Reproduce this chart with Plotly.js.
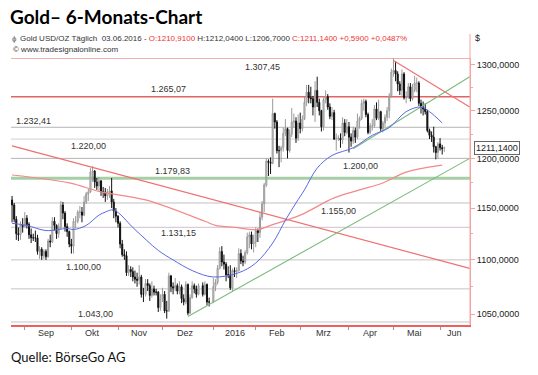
<!DOCTYPE html>
<html><head><meta charset="utf-8">
<script src="https://cdn.plot.ly/plotly-3.0.1.min.js"></script>
<style>html,body{margin:0;padding:0;background:#fff;} #chart{width:538px;height:375px;}</style>
</head><body><div id="chart"></div>
<script>
// ---- daily OHLC (Gold USD/OZ) ----
const dates = [
 '2015-08-24','2015-08-25','2015-08-26','2015-08-27','2015-08-28','2015-08-31',
 '2015-09-01','2015-09-02','2015-09-03','2015-09-04','2015-09-07','2015-09-08','2015-09-09','2015-09-10','2015-09-11','2015-09-14','2015-09-15','2015-09-16','2015-09-17','2015-09-18','2015-09-21','2015-09-22','2015-09-23','2015-09-24','2015-09-25','2015-09-28','2015-09-29','2015-09-30',
 '2015-10-01','2015-10-02','2015-10-05','2015-10-06','2015-10-07','2015-10-08','2015-10-09','2015-10-12','2015-10-13','2015-10-14','2015-10-15','2015-10-16','2015-10-19','2015-10-20','2015-10-21','2015-10-22','2015-10-23','2015-10-26','2015-10-27','2015-10-28','2015-10-29','2015-10-30',
 '2015-11-02','2015-11-03','2015-11-04','2015-11-05','2015-11-06','2015-11-09','2015-11-10','2015-11-11','2015-11-12','2015-11-13','2015-11-16','2015-11-17','2015-11-18','2015-11-19','2015-11-20','2015-11-23','2015-11-24','2015-11-25','2015-11-26','2015-11-27','2015-11-30',
 '2015-12-01','2015-12-02','2015-12-03','2015-12-04','2015-12-07','2015-12-08','2015-12-09','2015-12-10','2015-12-11','2015-12-14','2015-12-15','2015-12-16','2015-12-17','2015-12-18','2015-12-21','2015-12-22','2015-12-23','2015-12-24','2015-12-28','2015-12-29','2015-12-30','2015-12-31',
 '2016-01-04','2016-01-05','2016-01-06','2016-01-07','2016-01-08','2016-01-11','2016-01-12','2016-01-13','2016-01-14','2016-01-15','2016-01-18','2016-01-19','2016-01-20','2016-01-21','2016-01-22','2016-01-25','2016-01-26','2016-01-27','2016-01-28','2016-01-29',
 '2016-02-01','2016-02-02','2016-02-03','2016-02-04','2016-02-05','2016-02-08','2016-02-09','2016-02-10','2016-02-11','2016-02-12','2016-02-15','2016-02-16','2016-02-17','2016-02-18','2016-02-19','2016-02-22','2016-02-23','2016-02-24','2016-02-25','2016-02-26','2016-02-29',
 '2016-03-01','2016-03-02','2016-03-03','2016-03-04','2016-03-07','2016-03-08','2016-03-09','2016-03-10','2016-03-11','2016-03-14','2016-03-15','2016-03-16','2016-03-17','2016-03-18','2016-03-21','2016-03-22','2016-03-23','2016-03-24','2016-03-25','2016-03-28','2016-03-29','2016-03-30','2016-03-31',
 '2016-04-01','2016-04-04','2016-04-05','2016-04-06','2016-04-07','2016-04-08','2016-04-11','2016-04-12','2016-04-13','2016-04-14','2016-04-15','2016-04-18','2016-04-19','2016-04-20','2016-04-21','2016-04-22','2016-04-25','2016-04-26','2016-04-27','2016-04-28','2016-04-29',
 '2016-05-02','2016-05-03','2016-05-04','2016-05-05','2016-05-06','2016-05-09','2016-05-10','2016-05-11','2016-05-12','2016-05-13','2016-05-16','2016-05-17','2016-05-18','2016-05-19','2016-05-20','2016-05-23','2016-05-24','2016-05-25','2016-05-26','2016-05-27','2016-05-30','2016-05-31',
 '2016-06-01','2016-06-02','2016-06-03'
];
const openP = [
 1158,1153,1139,1125,1124,1133,
 1132,1140,1134,1124,1121,1121,1121,1108,1110,1104,1108,1103,1118,1117,1137,1133,1125,1131,1153,1145,1132,1127,
 1115,1113,1137,1137,1146,1146,1143,1156,1164,1166,1186,1187,1176,1172,1177,1166,1166,1162,1166,1167,1156,1147,
 1142,1135,1115,1105,1104,1088,1091,1089,1084,1082,1081,1084,1068,1068,1078,1076,1067,1073,1070,1070,1056,
 1064,1068,1053,1053,1085,1075,1074,1076,1071,1075,1064,1061,1077,1051,1065,1076,1073,1068,1076,1068,1077,1061,
 1061,1075,1079,1092,1108,1098,1096,1086,1086,1074,1090,1089,1090,1106,1099,1098,1107,1122,1124,1115,
 1117,1128,1126,1141,1154,1173,1197,1196,1195,1247,1238,1208,1208,1211,1226,1231,1208,1225,1238,1239,1221,
 1237,1231,1241,1259,1270,1264,1263,1254,1272,1259,1250,1233,1262,1265,1254,1244,1248,1220,1221,1221,1219,1237,1227,
 1233,1222,1218,1229,1222,1239,1242,1258,1260,1246,1227,1234,1234,1252,1242,1249,1231,1237,1243,1250,1266,
 1292,1294,1290,1279,1272,1290,1264,1265,1276,1263,1272,1280,1280,1258,1254,1252,1249,1229,1224,1222,1212,1206,
 1215,1211,1210.91
];
const highP = [
 1162,1155,1142,1131,1137,1140,
 1146,1143,1136,1130,1125,1128,1124,1113,1112,1110,1110,1120,1124,1141,1141,1134,1135,1157,1156,1147,1135,1128,
 1120,1140,1142,1148,1152,1151,1162,1166,1169,1190,1192,1188,1180,1181,1178,1171,1170,1169,1172,1180,1159,1150,
 1143,1137,1119,1110,1108,1095,1094,1093,1090,1088,1095,1086,1074,1082,1082,1078,1080,1076,1073,1071,1068,
 1074,1071,1062,1088,1086,1079,1083,1078,1080,1077,1068,1080,1078,1068,1080,1078,1076,1078,1079,1080,1078,1065,
 1083,1082,1095,1112,1113,1105,1098,1094,1095,1092,1093,1093,1111,1110,1104,1109,1126,1127,1127,1124,
 1131,1130,1146,1157,1175,1200,1199,1201,1263,1248,1240,1213,1213,1232,1241,1232,1230,1253,1247,1243,1246,
 1248,1245,1265,1278,1278,1276,1266,1282,1287,1263,1251,1264,1272,1268,1258,1254,1251,1226,1224,1226,1243,1241,1241,
 1238,1226,1233,1232,1247,1244,1262,1263,1262,1248,1237,1241,1256,1259,1262,1250,1239,1246,1254,1269,1296,
 1307.45,1304,1293,1282,1295,1292,1271,1280,1280,1279,1288,1286,1282,1262,1260,1258,1251,1231,1228,1233,1213,1217,
 1221,1214,1212.04
];
const lowP = [
 1136,1136,1119,1118,1119,1126,
 1131,1130,1120,1116,1118,1117,1105,1101,1100,1101,1100,1102,1112,1116,1128,1120,1121,1129,1139,1127,1122,1112,
 1106,1106,1130,1135,1140,1136,1142,1154,1157,1165,1176,1170,1168,1167,1162,1160,1156,1158,1160,1150,1140,1136,
 1131,1111,1103,1100,1085,1085,1084,1080,1078,1075,1077,1065,1061,1066,1071,1062,1065,1067,1067,1052,1053,
 1061,1051,1046,1052,1070,1068,1071,1068,1068,1060,1058,1059,1049,1050,1064,1069,1065,1067,1066,1067,1058,1057,
 1060,1071,1077,1091,1094,1091,1080,1083,1072,1071,1084,1083,1089,1096,1094,1096,1105,1111,1110,1107,
 1112,1117,1121,1138,1146,1171,1182,1184,1194,1231,1205,1191,1196,1207,1223,1200,1206,1222,1232,1216,1218,
 1226,1228,1240,1255,1258,1258,1245,1238,1254,1245,1228,1229,1258,1251,1241,1240,1219,1208,1218,1211,1215,1223,1225,
 1206,1212,1215,1216,1220,1231,1240,1250,1243,1225,1225,1229,1232,1240,1240,1228,1227,1233,1239,1242,1264,
 1287,1282,1271,1267,1266,1262,1258,1263,1260,1261,1270,1270,1255,1247,1245,1246,1227,1220,1217,1206,1199,1200,
 1208,1204,1206.70
];
const closeP = [
 1153,1139,1125,1124,1134,1132,
 1140,1134,1124,1121,1121,1121,1108,1110,1104,1108,1103,1118,1117,1137,1133,1125,1131,1153,1145,1132,1127,1115,
 1113,1137,1137,1146,1146,1143,1156,1164,1166,1186,1187,1176,1172,1177,1166,1166,1162,1166,1167,1156,1147,1142,
 1135,1115,1105,1104,1088,1091,1089,1084,1082,1081,1084,1068,1068,1078,1076,1067,1073,1070,1070,1056,1064,
 1068,1053,1053,1085,1075,1074,1076,1071,1075,1064,1061,1077,1051,1065,1076,1073,1068,1076,1068,1077,1061,1061,
 1075,1079,1092,1108,1098,1096,1086,1086,1074,1090,1089,1090,1106,1099,1098,1107,1122,1124,1115,1117,
 1128,1126,1141,1154,1173,1197,1196,1195,1247,1238,1208,1208,1211,1226,1231,1208,1225,1238,1239,1221,1237,
 1231,1241,1259,1270,1264,1263,1254,1272,1259,1250,1233,1262,1265,1254,1244,1248,1220,1221,1221,1219,1237,1227,1233,
 1222,1218,1229,1222,1239,1242,1258,1260,1246,1227,1234,1234,1252,1242,1249,1231,1237,1243,1250,1266,1292,
 1294,1290,1279,1272,1290,1264,1265,1276,1263,1272,1280,1280,1258,1254,1252,1249,1229,1224,1222,1212,1206,1215,
 1211,1210,1211.14
];

// ---- moving averages ----
const maFastDates = ['2015-08-24','2015-09-02','2015-09-15','2015-09-29','2015-10-02','2015-10-12','2015-10-20','2015-10-23','2015-10-29','2015-11-12','2015-11-27','2015-12-08','2015-12-21','2016-01-04','2016-01-20','2016-02-01','2016-02-11','2016-02-19','2016-02-26','2016-03-03','2016-03-11','2016-03-22','2016-04-05','2016-04-18','2016-04-28','2016-05-10','2016-05-19','2016-05-25','2016-06-02'];
const maFast = [1135,1133,1128,1130,1129,1133,1143,1146,1148,1129,1109,1100,1090,1084,1088,1097,1116,1138,1155,1168,1190,1203,1211,1224,1232,1249,1254,1249,1237];
const maSlowDates = ['2015-08-24','2015-09-30','2015-10-21','2015-11-19','2015-12-29','2016-01-05','2016-01-18','2016-02-02','2016-02-10','2016-03-01','2016-03-23','2016-04-08','2016-04-25','2016-05-10','2016-06-02'];
const maSlow = [1183,1175,1166,1158,1137,1133,1131,1129,1133,1143,1160,1168,1175,1186,1193];

// ---- trend lines (start/end points) ----
const trendRedLongX = ['2015-08-24','2016-06-21'];   const trendRedLongY = [1213,1092];
const trendRedMayX  = ['2016-05-02','2016-06-21'];   const trendRedMayY  = [1305,1254];
const trendGreenLoX = ['2015-12-17','2016-06-21'];   const trendGreenLoY = [1048,1200];
const trendGreenHiX = ['2016-04-05','2016-06-21'];   const trendGreenHiY = [1210,1287];

// ---- horizontal levels ----
const levelValues = [1307.45,1265.07,1232.41,1220.00,1200.00,1179.83,1155.00,1131.15,1100.00,1073.00,1043.00];
const levelLabels = ['1.307,45','1.265,07','1.232,41','1.220,00','1.200,00','1.179,83','1.155,00','1.131,15','1.100,00','','1.043,00'];

// ---- axis labels ----
const yTickVals = [1050,1100,1150,1200,1250,1300];
const yTickText = ['1050,0000','1100,0000','1150,0000','1200,0000','1250,0000','1300,0000'];
const monthStarts = ['2015-09-01','2015-10-01','2015-11-02','2015-12-01','2016-01-04','2016-02-01','2016-03-01','2016-04-01','2016-05-02','2016-06-01'];
const monthLabelDates = ['2015-09-15','2015-10-15','2015-11-16','2015-12-16','2016-01-18','2016-02-15','2016-03-16','2016-04-15','2016-05-16','2016-06-10'];
const monthLabels = ['Sep','Okt','Nov','Dez','2016','Feb','Mrz','Apr','Mai','Jun'];
const lastClose = 1211.14;

// ---- styling (layout only) ----
const L = 11, R = 470, T = 58, B = 325;
const px = x => (x - L) / (R - L);
const py = y => (B - y) / (B - T);
const levelStyle = [
  {c:'#f4b0b0', w:1.5, lx:262, dy:-9},
  {c:'#e06464', w:1.6, lx:168, dy:8},
  {c:'#b4b4b4', w:1,   lx:33,  dy:6},
  {c:'#d0d0d0', w:1,   lx:88,  dy:-7},
  {c:'#b4b4b4', w:1,   lx:360, dy:-8},
  {c:'#a6cfa6', w:3,   lx:172, dy:7},
  {c:'#c0c0c0', w:1,   lx:338, dy:-8},
  {c:'#cfc0cf', w:1,   lx:178, dy:-6},
  {c:'#c4c4c4', w:1,   lx:83,  dy:-7},
  {c:'#c4c4c4', w:1,   lx:0,   dy:0},
  {c:'#c4c4c4', w:1,   lx:95,  dy:8}
];
const FONT = 'Liberation Sans, Arial, sans-serif';

const shapes = levelValues.map((v,i) => ({
  type:'line', xref:'paper', x0:0, x1:1, yref:'y', y0:v, y1:v, layer:'below',
  line:{color:levelStyle[i].c, width:levelStyle[i].w}
}));
shapes.push({type:'line', xref:'paper', yref:'paper', x0:1, x1:1, y0:0, y1:py(34), line:{color:'#f4a4a4', width:1}});

const annotations = [];
levelValues.forEach((v,i) => {
  if (!levelLabels[i]) return;
  annotations.push({xref:'paper', yref:'y', x:px(levelStyle[i].lx), y:Math.log10(v), yshift:levelStyle[i].dy,
    text:levelLabels[i], showarrow:false, xanchor:'center', yanchor:'middle',
    font:{family:FONT, size:9, color:'#333'}});
});
monthLabels.forEach((m,i) => {
  annotations.push({xref:'x', yref:'paper', x:monthLabelDates[i], y:0, yshift:-8, text:m, showarrow:false,
    xanchor:'center', yanchor:'middle', font:{family:FONT, size:9, color:'#333'}});
});
annotations.push({xref:'paper', yref:'paper', x:px(18), y:py(38), xanchor:'left', yanchor:'middle', showarrow:false,
  text:'Gold USD/OZ Täglich  03.06.2016 - <span style="color:#ee3333">O:1210,9100</span> H:1212,0400 L:1206,7000 <span style="color:#ee3333">C:1211,1400 +0,5900 +0,0487%</span>',
  font:{family:FONT, size:8, color:'#333'}});
annotations.push({xref:'paper', yref:'paper', x:px(10), y:py(38), xanchor:'left', yanchor:'middle', showarrow:false,
  text:'ɸ', font:{family:FONT, size:8, color:'#666'}});
annotations.push({xref:'paper', yref:'paper', x:px(11), y:py(50), xanchor:'left', yanchor:'middle', showarrow:false,
  text:'© www.tradesignalonline.com', font:{family:FONT, size:8, color:'#333'}});
annotations.push({xref:'paper', yref:'paper', x:px(473), y:py(38), xanchor:'left', yanchor:'middle', showarrow:false,
  text:'$', font:{family:FONT, size:9, color:'#222'}});
annotations.push({xref:'paper', yref:'paper', x:px(9), y:py(357), xanchor:'left', yanchor:'middle', showarrow:false,
  text:'Quelle: BörseGo AG', font:{family:'Lato, Open Sans, sans-serif', size:13, color:'#111'}});
annotations.push({xref:'paper', yref:'y', x:1, xshift:4, y:Math.log10(lastClose), xanchor:'left', yanchor:'middle', showarrow:false,
  text:'1211,1400', bordercolor:'#666', borderwidth:1, borderpad:1, bgcolor:'#fff',
  font:{family:FONT, size:9, color:'#222'}});

const traces = [
  {type:'scatter', mode:'lines', x:maSlowDates, y:maSlow, line:{color:'#f28a8a', width:1.2, shape:'spline'}, hoverinfo:'skip'},
  {type:'scatter', mode:'lines', x:trendRedLongX, y:trendRedLongY, line:{color:'#f07070', width:1.2}, hoverinfo:'skip'},
  {type:'scatter', mode:'lines', x:trendRedMayX, y:trendRedMayY, line:{color:'#f07070', width:1.2}, hoverinfo:'skip'},
  {type:'scatter', mode:'lines', x:trendGreenLoX, y:trendGreenLoY, line:{color:'#7cba7c', width:1.1}, hoverinfo:'skip'},
  {type:'scatter', mode:'lines', x:trendGreenHiX, y:trendGreenHiY, line:{color:'#7cba7c', width:1.1}, hoverinfo:'skip'},
  {type:'scatter', mode:'lines', x:maFastDates, y:maFast, line:{color:'#5a68e6', width:1, shape:'spline'}, hoverinfo:'skip'},
  {type:'candlestick', x:dates, open:openP, high:highP, low:lowP, close:closeP, whiskerwidth:0,
   increasing:{line:{color:'#9a9a9a', width:1}, fillcolor:'#dcdcdc'},
   decreasing:{line:{color:'#111111', width:1}, fillcolor:'#111111'}, hoverinfo:'skip'}
];

const layout = {
  width:538, height:375, paper_bgcolor:'#fff', plot_bgcolor:'#fff', showlegend:false,
  margin:{l:L, r:538-R, t:T, b:375-B},
  title:{text:'<b>Gold– 6-Monats-Chart</b>', x:10/538, xanchor:'left', xref:'container', y:1-17/375, yanchor:'middle', yref:'container',
    font:{family:'Lato, Open Sans, sans-serif', size:19, color:'#000'}},
  xaxis:{type:'date', range:['2015-08-21 12:00','2016-06-21 03:00'], rangebreaks:[{bounds:['sat','mon']}],
    rangeslider:{visible:false}, showgrid:false, zeroline:false, showline:true, linecolor:'#ee6060', linewidth:1.5,
    tickmode:'array', tickvals:monthStarts, showticklabels:false, ticks:'outside', ticklen:3, tickcolor:'#999', fixedrange:true},
  yaxis:{type:'log', range:[Math.log10(1040.3), Math.log10(1307.8)], side:'right', showgrid:false, zeroline:false,
    showline:true, linecolor:'#f4a4a4', linewidth:1, tickmode:'array', tickvals:yTickVals, ticktext:yTickText,
    ticks:'outside', ticklen:4, tickcolor:'#f4a4a4', tickfont:{family:FONT, size:9, color:'#222'},
    minor:{tickvals:[1075,1125,1175,1225,1275], ticks:'outside', ticklen:2, tickcolor:'#f4a4a4'}, fixedrange:true},
  shapes, annotations, hovermode:false
};

Plotly.newPlot('chart', traces, layout, {displayModeBar:false, staticPlot:true});
</script></body></html>
